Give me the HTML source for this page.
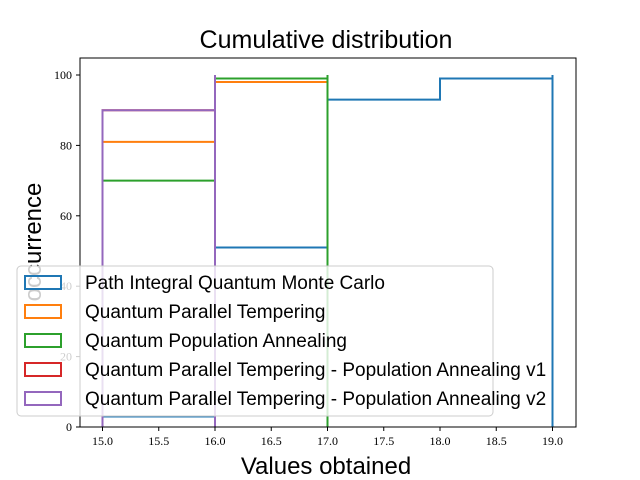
<!DOCTYPE html>
<html><head><meta charset="utf-8"><style>
html,body{margin:0;padding:0;background:#fff;}
svg{display:block;font-family:"Liberation Sans","DejaVu Sans",sans-serif;}
.tick{font-family:"Liberation Serif","DejaVu Serif",serif;font-size:12px;fill:#000;}
</style></head><body>
<svg id="chart" width="640" height="480">
<rect width="640" height="480" fill="#fff"/>
<text x="326" y="48" text-anchor="middle" font-size="25">Cumulative distribution</text>
<text x="326" y="474" text-anchor="middle" font-size="24">Values obtained</text>
<text transform="translate(41,242) rotate(-90)" text-anchor="middle" font-size="24">occurrence</text>
<g id="ticks"></g>
<g id="series"></g>
<rect x="80" y="58" width="496" height="369" fill="none" stroke="#000" stroke-width="1"/>
<g id="legend"></g>
</svg>
<script>
const names=["Path Integral Quantum Monte Carlo","Quantum Parallel Tempering","Quantum Population Annealing","Quantum Parallel Tempering - Population Annealing v1","Quantum Parallel Tempering - Population Annealing v2"];
const colors=["#1f77b4","#ff7f0e","#2ca02c","#d62728","#9467bd"];
const edges0=[15,16,17,18,19,19];
const vals0=[3,51,93,99,100];
const edges1=[15,16,17,17];
const vals1=[81,98,100];
const edges2=[15,16,17,17];
const vals2=[70,99,100];
const edges3=[15,16,16];
const vals3=[90,100];
const edges4=[15,16,16];
const vals4=[90,100];
const xTicks=[15.0,15.5,16.0,16.5,17.0,17.5,18.0,18.5,19.0];
const yTicks=[0,20,40,60,80,100];
const NS="http://www.w3.org/2000/svg";
const X=v=>80+(v-14.8)*112.5;
const Y=v=>427-v*3.52;
const tg=document.getElementById('ticks');
xTicks.forEach(t=>{
  const l=document.createElementNS(NS,'line');
  l.setAttribute('x1',X(t));l.setAttribute('x2',X(t));l.setAttribute('y1',427);l.setAttribute('y2',431);l.setAttribute('stroke','#000');
  
  
  tg.appendChild(l);
  const s=document.createElementNS(NS,'text');
  s.setAttribute('x',X(t));s.setAttribute('y',445);s.setAttribute('text-anchor','middle');s.setAttribute('class','tick');
  s.textContent=t.toFixed(1);
  
  
  tg.appendChild(s);
});
yTicks.forEach(t=>{
  const l=document.createElementNS(NS,'line');
  l.setAttribute('x1',76);l.setAttribute('x2',80);l.setAttribute('y1',Y(t));l.setAttribute('y2',Y(t));l.setAttribute('stroke','#000');
  
  
  tg.appendChild(l);
  const s=document.createElementNS(NS,'text');
  s.setAttribute('x',72);s.setAttribute('y',Y(t)+4);s.setAttribute('text-anchor','end');s.setAttribute('class','tick');
  s.textContent=t;
  
  
  tg.appendChild(s);
});
const all=[[edges0,vals0],[edges1,vals1],[edges2,vals2],[edges3,vals3],[edges4,vals4]];
const sg=document.getElementById('series');
all.forEach(([e,v],i)=>{
  let d='M'+X(e[0])+','+Y(0);
  for(let k=0;k<v.length;k++){d+=' L'+X(e[k])+','+Y(v[k])+' L'+X(e[k+1])+','+Y(v[k]);}
  d+=' L'+X(e[e.length-1])+','+Y(0);
  const p=document.createElementNS(NS,'path');
  p.setAttribute('d',d);p.setAttribute('fill','none');p.setAttribute('stroke',colors[i]);p.setAttribute('stroke-width',2);
  
  
  sg.appendChild(p);
});
const lg=document.getElementById('legend');
const box=document.createElementNS(NS,'rect');
box.setAttribute('x',17);box.setAttribute('y',266);box.setAttribute('width',476);box.setAttribute('height',150);box.setAttribute('rx',4);
box.setAttribute('fill','rgba(255,255,255,0.8)');box.setAttribute('stroke','#ccc');


lg.appendChild(box);
names.forEach((n,i)=>{
  const y=282+i*29;
  const r=document.createElementNS(NS,'rect');
  r.setAttribute('x',25);r.setAttribute('y',y-6);r.setAttribute('width',36);r.setAttribute('height',13);
  r.setAttribute('fill','none');r.setAttribute('stroke',colors[i]);r.setAttribute('stroke-width',2);
  
  
  lg.appendChild(r);
  const t=document.createElementNS(NS,'text');
  t.setAttribute('x',85);t.setAttribute('y',y+7);t.setAttribute('font-size',19);
  t.textContent=n;
  
  
  lg.appendChild(t);
});
</script>
</body></html>
